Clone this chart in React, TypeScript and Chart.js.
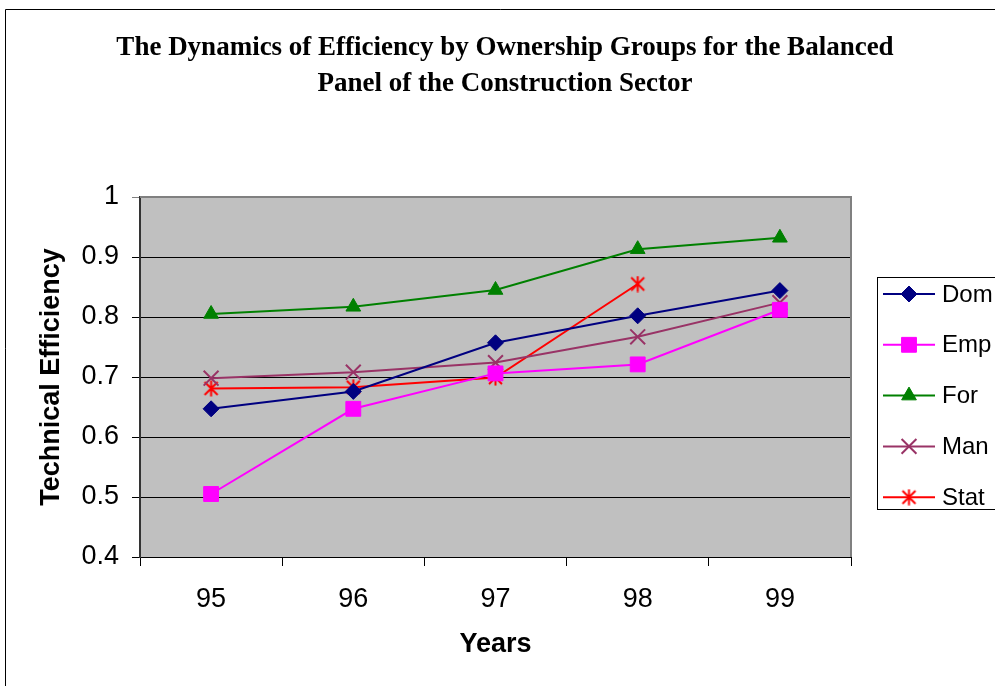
import React, { useEffect, useRef } from "react";
import { Chart, registerables } from "chart.js";
import { drawPoint } from "chart.js/helpers";

Chart.register(...registerables);

// Years on the category axis
const years = ["95", "96", "97", "98", "99"];

// Technical efficiency by ownership group
const dom = [0.647, 0.676, 0.757, 0.802, 0.844];
const emp = [0.505, 0.647, 0.706, 0.721, 0.812];
const forg = [0.805, 0.817, 0.845, 0.913, 0.932];
const man = [0.698, 0.708, 0.724, 0.767, 0.824];
const stat = [0.681, 0.683, 0.699, 0.855, null];

// Value-axis ticks
const yTicks = [0.4, 0.5, 0.6, 0.7, 0.8, 0.9, 1];

const titleLines = [
  "The Dynamics of Efficiency by Ownership Groups for the Balanced",
  "Panel of the Construction Sector",
];

const SANS = "'Liberation Sans', Arial, sans-serif";
const SERIF = "'Liberation Serif', 'Times New Roman', serif";

// Asterisk marker: an X with a vertical stroke through it
function makeAsterisk(color: string): HTMLCanvasElement {
  const c = document.createElement("canvas");
  c.width = 17;
  c.height = 17;
  const g = c.getContext("2d")!;
  g.strokeStyle = color;
  g.lineWidth = 2;
  g.beginPath();
  g.moveTo(2, 2);
  g.lineTo(15, 15);
  g.moveTo(15, 2);
  g.lineTo(2, 15);
  g.moveTo(8.5, 0.5);
  g.lineTo(8.5, 16.5);
  g.stroke();
  return c;
}

const chromePlugin = {
  id: "chrome",
  beforeDraw(chart: any) {
    const { ctx, chartArea: a } = chart;
    ctx.save();
    ctx.fillStyle = "#fff";
    ctx.fillRect(0, 0, chart.width, chart.height);
    // outer frame
    ctx.strokeStyle = "#000";
    ctx.lineWidth = 1;
    ctx.beginPath();
    ctx.moveTo(5.5, chart.height + 2);
    ctx.lineTo(5.5, 9.5);
    ctx.lineTo(chart.width + 2, 9.5);
    ctx.stroke();
    // plot background
    ctx.fillStyle = "#C0C0C0";
    ctx.fillRect(a.left, a.top, a.right - a.left, a.bottom - a.top);
    ctx.restore();
  },
  afterDraw(chart: any) {
    const { ctx, chartArea: a } = chart;
    ctx.save();
    // plot frame (top and right)
    ctx.strokeStyle = "#808080";
    ctx.lineWidth = 2;
    ctx.beginPath();
    ctx.moveTo(a.left, a.top);
    ctx.lineTo(a.right, a.top);
    ctx.lineTo(a.right, a.bottom);
    ctx.stroke();

    // title
    ctx.fillStyle = "#000";
    ctx.font = `bold 27px ${SERIF}`;
    ctx.textAlign = "center";
    ctx.textBaseline = "alphabetic";
    ctx.fillText(titleLines[0], 505, 55);
    ctx.fillText(titleLines[1], 505, 91);

    // axis titles
    ctx.font = `bold 27px ${SANS}`;
    ctx.textBaseline = "middle";
    ctx.fillText("Years", (a.left + a.right) / 2, 645);
    ctx.save();
    ctx.translate(52, (a.top + a.bottom) / 2);
    ctx.rotate(-Math.PI / 2);
    ctx.fillText("Technical Efficiency", 0, 0);
    ctx.restore();

    // legend
    ctx.strokeStyle = "#000";
    ctx.lineWidth = 1;
    ctx.strokeRect(877.5, 277.5, 140, 232);
    ctx.font = `24px ${SANS}`;
    ctx.textAlign = "left";
    chart.data.datasets.forEach((ds: any, i: number) => {
      const y = 294 + i * 50.8;
      ctx.strokeStyle = ds.borderColor;
      ctx.lineWidth = 2;
      ctx.beginPath();
      ctx.moveTo(883, y);
      ctx.lineTo(935, y);
      ctx.stroke();
      ctx.fillStyle = ds.pointBackgroundColor;
      ctx.strokeStyle = ds.pointBorderColor;
      ctx.lineWidth = ds.pointBorderWidth;
      drawPoint(ctx, { pointStyle: ds.pointStyle, radius: ds.pointRadius, rotation: 0, borderWidth: ds.pointBorderWidth }, 909, y);
      ctx.fillStyle = "#000";
      ctx.fillText(ds.label, 942, y + 1);
    });
    ctx.restore();
  },
};

export default function App() {
  const ref = useRef<HTMLCanvasElement>(null);

  useEffect(() => {
    const series = [
      { label: "Dom", data: dom, color: "#000080", style: "rectRot", r: 8, bw: 1 },
      { label: "Emp", data: emp, color: "#FF00FF", style: "rect", r: 10.5, bw: 1 },
      { label: "For", data: forg, color: "#008000", style: "triangle", r: 8.5, bw: 1 },
      { label: "Man", data: man, color: "#993366", style: "crossRot", r: 10.5, bw: 2 },
      { label: "Stat", data: stat, color: "#FF0000", style: makeAsterisk("#FF0000"), r: 8, bw: 1 },
    ];

    const chart = new Chart(ref.current!, {
      type: "line",
      data: {
        labels: years,
        datasets: series.map((s) => ({
          label: s.label,
          data: s.data,
          borderColor: s.color,
          backgroundColor: s.color,
          borderWidth: 2,
          pointStyle: s.style as any,
          pointRadius: s.r,
          pointHoverRadius: s.r,
          pointBackgroundColor: s.color,
          pointBorderColor: s.color,
          pointBorderWidth: s.bw,
          tension: 0,
          spanGaps: false,
        })),
      },
      options: {
        responsive: false,
        animation: false,
        events: [],
        layout: { padding: { top: 197, right: 144, left: 0, bottom: 0 } },
        plugins: {
          legend: { display: false },
          title: { display: false },
          tooltip: { enabled: false },
        },
        scales: {
          x: {
            type: "category",
            offset: true,
            afterFit: (s: any) => {
              s.height = 129;
            },
            grid: {
              offset: true,
              drawOnChartArea: false,
              drawTicks: true,
              tickLength: 9,
              color: "#000",
            },
            border: { color: "#000", width: 1 },
            ticks: {
              color: "#000",
              font: { family: SANS, size: 27 },
              padding: 17,
              maxRotation: 0,
            },
          },
          y: {
            min: 0.4,
            max: 1,
            afterFit: (s: any) => {
              s.width = 140;
            },
            afterBuildTicks: (s: any) => {
              s.ticks = yTicks.map((v) => ({ value: v }));
            },
            grid: {
              color: (c: any) => (c.tick && c.tick.value === 1 ? "#808080" : "#000"),
              lineWidth: 1,
              tickLength: 8,
              drawTicks: true,
            },
            border: { color: "#333", width: 2 },
            ticks: {
              color: "#000",
              font: { family: SANS, size: 27 },
              padding: 13,
              callback: (v: any) => String(Math.round(Number(v) * 10) / 10),
            },
          },
        },
      },
      plugins: [chromePlugin],
    });
    return () => chart.destroy();
  }, []);

  return (
    <canvas
      ref={ref}
      width={995}
      height={686}
      style={{ position: "absolute", left: 0, top: 0, display: "block" }}
    />
  );
}
